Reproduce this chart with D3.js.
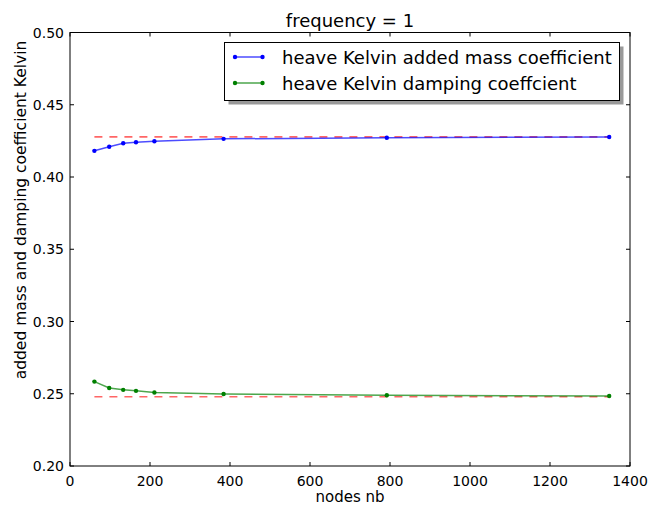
<!DOCTYPE html>
<html><head><meta charset="utf-8">
<script src="https://cdn.jsdelivr.net/npm/d3@7"></script>
<style>body{margin:0;background:#fff}svg{display:block}text{font-family:"DejaVu Sans",sans-serif;fill:#000}</style>
</head><body><svg id="c" width="649" height="505"></svg>
<script>
const nodes = [61, 98, 133, 165, 211, 384, 792, 1348];
const addedMass = [0.4181, 0.4209, 0.4234, 0.4241, 0.4247, 0.4264, 0.4272, 0.4277];
const damping = [0.2584, 0.2540, 0.2527, 0.2520, 0.2509, 0.2498, 0.2490, 0.2484];
const refAddedMass = 0.4278;
const refDamping = 0.2479;
const xTicks = [0, 200, 400, 600, 800, 1000, 1200, 1400];
const yTicks = [0.20, 0.25, 0.30, 0.35, 0.40, 0.45, 0.50];
const seriesNames = ["heave Kelvin added mass coefficient", "heave Kelvin damping coeffcient"];

const svg = d3.select("#c");
const L = 70, R = 630, T = 32.5, B = 466;
const x = d3.scaleLinear().domain([0, 1400]).range([L, R]);
const y = d3.scaleLinear().domain([0.20, 0.50]).range([B, T]);

// ticks inward, all four sides
const g = svg.append("g");
const tl = 4;
xTicks.forEach(v => {
  g.append("line").attr("x1", x(v)).attr("x2", x(v)).attr("y1", B).attr("y2", B - tl).attr("stroke", "#000");
  g.append("line").attr("x1", x(v)).attr("x2", x(v)).attr("y1", T).attr("y2", T + tl).attr("stroke", "#000");
  g.append("text").attr("x", x(v)).attr("y", 486).attr("text-anchor", "middle").attr("font-size", "14px").text(v);
});
yTicks.forEach(v => {
  g.append("line").attr("x1", L).attr("x2", L + tl).attr("y1", y(v)).attr("y2", y(v)).attr("stroke", "#000");
  g.append("line").attr("x1", R).attr("x2", R - tl).attr("y1", y(v)).attr("y2", y(v)).attr("stroke", "#000");
  g.append("text").attr("x", 64).attr("y", y(v) + 5).attr("text-anchor", "end").attr("font-size", "14px").text(d3.format(".2f")(v));
});

// reference dashed lines
const xr = [nodes[0], nodes[nodes.length - 1]];
[refAddedMass, refDamping].forEach(r => {
  svg.append("line").attr("x1", x(xr[0])).attr("x2", x(xr[1])).attr("y1", y(r)).attr("y2", y(r))
    .attr("stroke", "red").attr("stroke-opacity", 0.6).attr("stroke-width", 1.6).attr("stroke-dasharray", "8,7");
});

const line = d3.line().x(d => x(d[0])).y(d => y(d[1]));
const series = [
  {vals: addedMass, color: "#0000ff"},
  {vals: damping, color: "#008000"}
];
series.forEach(s => {
  const pts = nodes.map((n, i) => [n, s.vals[i]]);
  svg.append("path").attr("d", line(pts)).attr("fill", "none").attr("stroke", s.color)
    .attr("stroke-opacity", 0.7).attr("stroke-width", 1.5);
  svg.selectAll(null).data(pts).enter().append("circle")
    .attr("cx", d => x(d[0])).attr("cy", d => y(d[1])).attr("r", 2.2).attr("fill", s.color);
});

// frame
svg.append("rect").attr("x", L).attr("y", T).attr("width", R - L).attr("height", B - T)
  .attr("fill", "none").attr("stroke", "#000").attr("stroke-width", 1);

// title and labels
svg.append("text").attr("x", (L + R) / 2).attr("y", 27).attr("text-anchor", "middle").attr("font-size", "18px").text("frequency = 1");
svg.append("text").attr("x", (L + R) / 2).attr("y", 502).attr("text-anchor", "middle").attr("font-size", "15px").text("nodes nb");
svg.append("text").attr("transform", "translate(26,210) rotate(-90)").attr("text-anchor", "middle").attr("font-size", "15.5px")
  .text("added mass and damping coefficient Kelvin");

// legend
const lx = 224.5, ly = 42.5, lw = 395, lh = 58;
svg.append("rect").attr("x", lx + 4).attr("y", ly + 4).attr("width", lw).attr("height", lh).attr("fill", "#999");
svg.append("rect").attr("x", lx).attr("y", ly).attr("width", lw).attr("height", lh).attr("fill", "#fff").attr("stroke", "#000");
series.forEach((s, i) => {
  const yy = 57 + i * 26;
  svg.append("line").attr("x1", 235).attr("x2", 262.5).attr("y1", yy).attr("y2", yy).attr("stroke", s.color).attr("stroke-opacity", 0.7).attr("stroke-width", 1.5);
  [235, 262.5].forEach(cx => svg.append("circle").attr("cx", cx).attr("cy", yy).attr("r", 2.2).attr("fill", s.color));
  svg.append("text").attr("x", 282).attr("y", yy + 6.5).attr("font-size", "18px").text(seriesNames[i]);
});
</script></body></html>
